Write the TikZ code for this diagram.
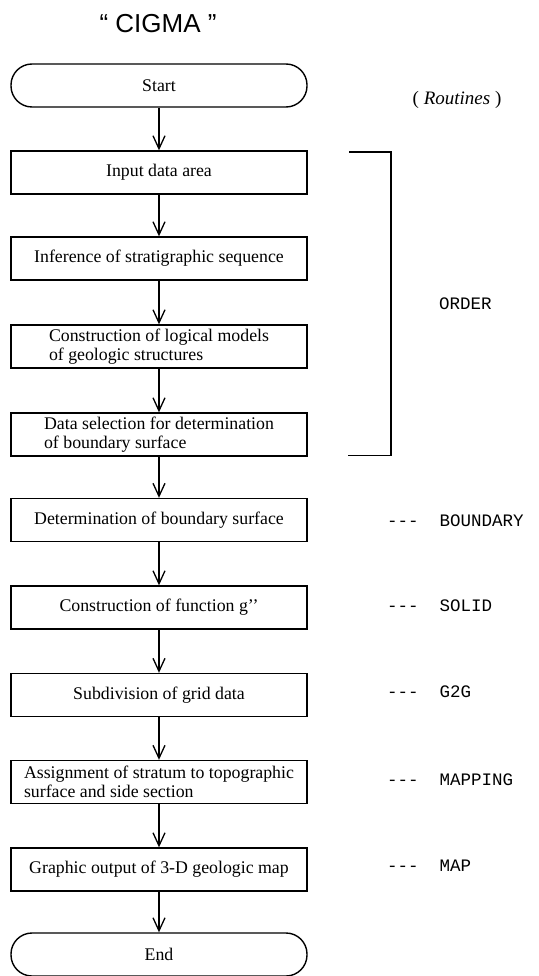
\documentclass[tikz,border=0pt]{standalone}
\usepackage{fontspec}
\setmainfont{Liberation Serif}
\setsansfont{Liberation Sans}
\setmonofont{Liberation Mono}
\usetikzlibrary{arrows.meta}
\tikzset{
  procbox/.style={draw, line width=1.4pt, minimum width=296pt, minimum height=43pt,
    inner sep=0pt, align=left, font=\fontsize{17.8}{19}\selectfont},
  termbox/.style={procbox, rounded corners=21pt},
  flow/.style={line width=1.3pt, -{Straight Barb[length=13pt,width=12pt,line width=1.3pt]}},
  routinelbl/.style={anchor=west, inner sep=0pt, font=\ttfamily\fontsize{17.5}{20}\selectfont},
  bracketline/.style={line width=1.3pt},
}
\begin{document}
\begin{tikzpicture}[x=1pt,y=-1pt]
\useasboundingbox (0,0) rectangle (538,976);
\node[font=\sffamily\fontsize{26}{30}\selectfont] (title) at (158,24) {“ CIGMA ”};
\node[font=\fontsize{19}{22}\selectfont] (routines) at (457,100) {( \textit{Routines} )};

\node[termbox] (start) at (159,85.5) {Start};
\node[procbox] (input) at (159,172.5) {Input data area};
\node[procbox] (infer) at (159,258.5) {Inference of stratigraphic sequence};
\node[procbox] (constr) at (159,346.5) {Construction of logical models\\of geologic structures};
\node[procbox] (dsel) at (159,434.5) {Data selection for determination\\of boundary surface};
\node[procbox] (bound) at (159,520) {Determination of boundary surface};
\node[procbox] (func) at (159,607.5) {Construction of function g’’};
\node[procbox] (subd) at (159,695) {Subdivision of grid data};
\node[procbox] (assign) at (159,782) {Assignment of stratum to topographic\\surface and side section};
\node[procbox] (graph) at (159,869.5) {Graphic output of 3-D geologic map};
\node[termbox] (end) at (159,954.5) {End};

\foreach \a/\b in {start/input,input/infer,infer/constr,constr/dsel,dsel/bound,bound/func,func/subd,subd/assign,assign/graph,graph/end}
  \draw[flow] (\a.south) -- (\b.north);

\coordinate (bt1) at (349,152);
\coordinate (bt2) at (391,152);
\coordinate (bb2) at (391,455.5);
\coordinate (bb1) at (348,455.5);
\draw[bracketline] (bt1) -- (bt2) -- (bb2) -- (bb1);

\node[routinelbl] (order) at (439,304) {ORDER};
\node[routinelbl] (rbound) at (387,521) {-{}-{}-~~BOUNDARY};
\node[routinelbl] (rsolid) at (387,606) {-{}-{}-~~SOLID};
\node[routinelbl] (rg2g) at (387,692) {-{}-{}-~~G2G};
\node[routinelbl] (rmap) at (387,780) {-{}-{}-~~MAPPING};
\node[routinelbl] (rmp) at (387,866) {-{}-{}-~~MAP};
\end{tikzpicture}
\end{document}
